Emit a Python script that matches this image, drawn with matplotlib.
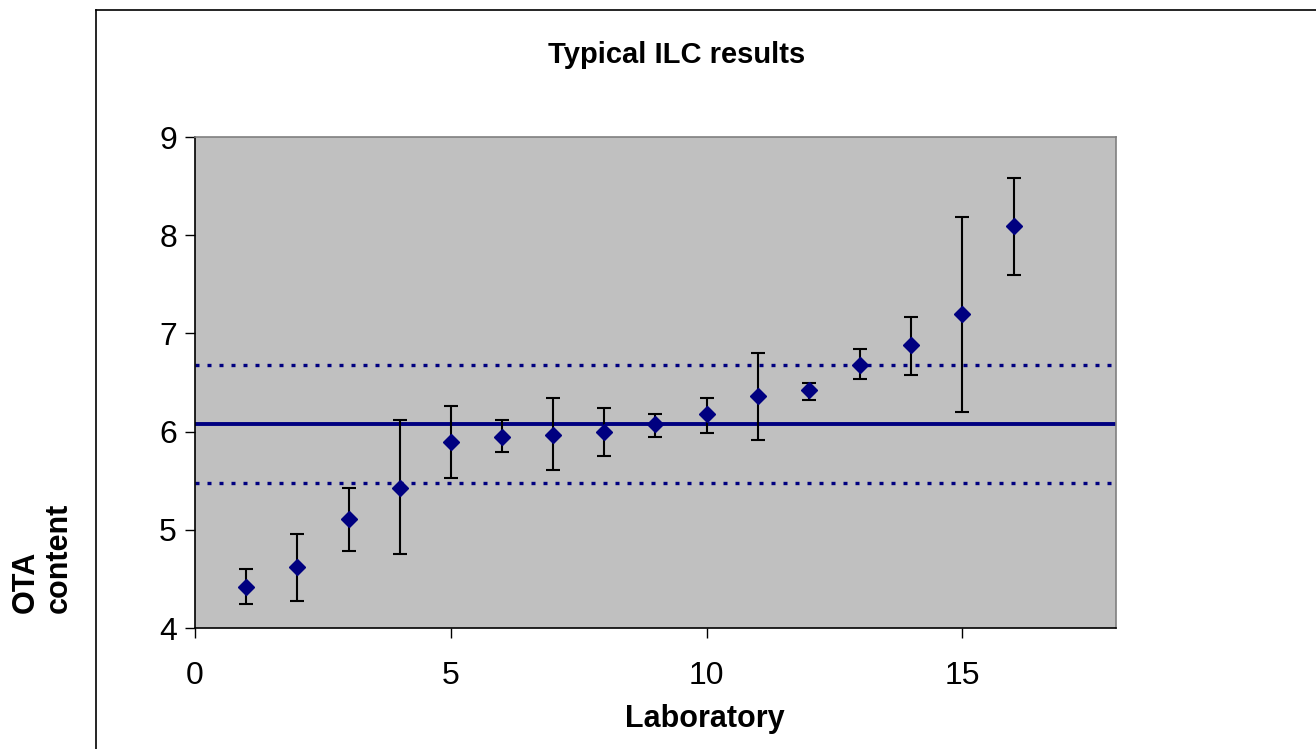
import matplotlib.pyplot as plt
from matplotlib.lines import Line2D

plt.rcParams['font.family'] = ['Liberation Sans', 'DejaVu Sans']

# ILC results per laboratory
labs = [1, 2, 3, 4, 5, 6, 7, 8, 9, 10, 11, 12, 13, 14, 15, 16]
values = [4.42, 4.62, 5.11, 5.43, 5.89, 5.95, 5.97, 6.00, 6.08, 6.18, 6.36, 6.42, 6.68, 6.88, 7.20, 8.09]
err_low = [4.24, 4.28, 4.78, 4.75, 5.53, 5.79, 5.61, 5.75, 5.95, 5.99, 5.91, 6.32, 6.54, 6.58, 6.20, 7.60]
err_high = [4.60, 4.96, 5.43, 6.12, 6.26, 6.12, 6.34, 6.24, 6.18, 6.34, 6.80, 6.50, 6.84, 7.17, 8.19, 8.58]

mean_value = 6.08
lower_limit = 5.48
upper_limit = 6.675

fig = plt.figure(figsize=(13.16, 7.49), dpi=100)
ax = fig.add_axes([0.1482, 0.1615, 0.6998, 0.6555])
ax.set_facecolor('#C0C0C0')

yerr = [[v - lo for v, lo in zip(values, err_low)],
        [hi - v for v, hi in zip(values, err_high)]]

# reference lines span the whole plot
ax.axhline(mean_value, color='#000080', lw=2.8, zorder=2)
ax.axhline(lower_limit, color='#000080', lw=2.4, ls=(0, (1.2, 2.4)), zorder=2)
ax.axhline(upper_limit, color='#000080', lw=2.4, ls=(0, (1.2, 2.4)), zorder=2)

ax.errorbar(labs, values, yerr=yerr, fmt='none', ecolor='black', elinewidth=1.5,
            capsize=4.8, capthick=1.5, zorder=3)
ax.plot(labs, values, 'D', color='#000080', markersize=8.5, zorder=4)

ax.set_xlim(0, 18)
ax.set_ylim(4, 9)
ax.set_xticks([0, 5, 10, 15])
ax.set_yticks([4, 5, 6, 7, 8, 9])
ax.tick_params(labelsize=23, direction='out', length=7, width=1)
ax.tick_params(axis='x', pad=17)
ax.tick_params(axis='y', pad=6)

for side in ['top', 'right']:
    ax.spines[side].set_color('#808080')
for side in ['left', 'bottom']:
    ax.spines[side].set_color('black')
for s in ax.spines.values():
    s.set_linewidth(1.2)

ax.set_xlabel('Laboratory', fontsize=22, fontweight='bold')
ax.xaxis.set_label_coords(0.554, -0.155)

fig.text(0.514, 0.926, 'Typical ILC results', ha='center', va='center',
         fontsize=21, fontweight='bold')
fig.text(0.032, 0.181, 'OTA\ncontent', rotation=90, ha='center', va='bottom',
         multialignment='left', fontsize=22, fontweight='bold', linespacing=1.15)

# outer chart frame (extends past the image on right and bottom)
fig.add_artist(Line2D([0.073, 0.073], [0.0, 0.987], color='black', lw=1.2,
                      transform=fig.transFigure))
fig.add_artist(Line2D([0.073, 1.0], [0.987, 0.987], color='black', lw=1.2,
                      transform=fig.transFigure))

fig.savefig('out.png', dpi=100)
